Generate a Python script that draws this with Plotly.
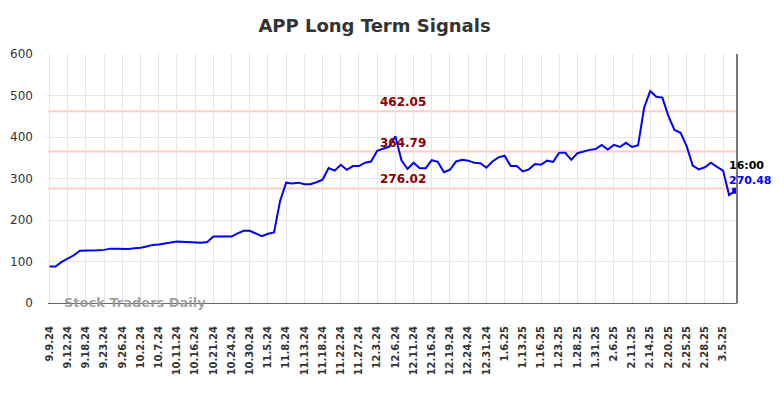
import plotly.graph_objects as go

# ---- data ----
tick_labels = ["9.9.24", "9.12.24", "9.18.24", "9.23.24", "9.26.24", "10.2.24", "10.7.24",
               "10.11.24", "10.16.24", "10.21.24", "10.24.24", "10.30.24", "11.5.24", "11.8.24",
               "11.13.24", "11.18.24", "11.22.24", "11.27.24", "12.3.24", "12.6.24", "12.11.24",
               "12.16.24", "12.19.24", "12.24.24", "12.31.24", "1.6.25", "1.13.25", "1.16.25",
               "1.23.25", "1.28.25", "1.31.25", "2.6.25", "2.11.25", "2.14.25", "2.20.25",
               "2.25.25", "2.28.25", "3.5.25"]

prices = [88, 88, 99, 107, 115, 126, 126, 126, 127, 128,
          131, 131, 130, 130, 132, 133, 136, 140, 141, 144,
          146, 148, 147, 146, 146, 145, 147, 160, 160, 160,
          160, 168, 174, 174, 168, 161, 167, 170, 246, 290,
          288, 290, 286, 286, 291, 297, 325, 319, 333, 321,
          330, 330, 338, 341, 367, 372, 377, 402, 344, 323,
          338, 325, 325, 344, 340, 315, 321, 341, 345, 343,
          338, 337, 326, 341, 351, 355, 330, 330, 317, 322,
          335, 333, 343, 340, 362, 362, 345, 361, 365, 369,
          371, 381, 370, 381, 376, 386, 376, 380, 471, 511,
          497, 495, 450, 417, 410, 378, 331, 322, 327, 338,
          328, 319, 260, 270.48]

levels = [462.05, 364.79, 276.02]
level_labels = ["462.05", "364.79", "276.02"]
last_time = "16:00"
last_price_label = "270.48"

x_idx = list(range(len(prices)))
tick_step = 3
tick_vals = [i * tick_step for i in range(len(tick_labels))]

FONT = "DejaVu Sans"

fig = go.Figure()
fig.add_trace(go.Scatter(
    x=x_idx, y=prices, mode="lines",
    line=dict(color="#0000ff", width=2),
    hoverinfo="skip", showlegend=False,
))
fig.add_trace(go.Scatter(
    x=[x_idx[-1]], y=[prices[-1]], mode="markers",
    marker=dict(symbol="square", size=6, color="#0000ff"),
    hoverinfo="skip", showlegend=False,
))

shapes = []
annotations = []
label_x = 58.3
for lv, lab in zip(levels, level_labels):
    shapes.append(dict(type="line", xref="paper", x0=0, x1=1, yref="y", y0=lv, y1=lv,
                       line=dict(color="#ffcccc", width=2), layer="below"))
    annotations.append(dict(x=label_x, y=lv, xref="x", yref="y", text=f"<b>{lab}</b>",
                            showarrow=False, yanchor="bottom", yshift=0,
                            font=dict(family=FONT, size=12, color="#8b0000")))

# right vertical line
shapes.append(dict(type="line", xref="paper", x0=1, x1=1, yref="paper", y0=0, y1=1,
                   line=dict(color="#777777", width=2)))

annotations.append(dict(x=x_idx[-1], y=prices[-1], xref="x", yref="y",
                        text=f"<b>{last_time}</b>", showarrow=False,
                        xanchor="left", yanchor="middle", xshift=-8, yshift=25,
                        font=dict(family=FONT, size=11, color="#000000")))
annotations.append(dict(x=x_idx[-1], y=prices[-1], xref="x", yref="y",
                        text=f"<b>{last_price_label}</b>", showarrow=False,
                        xanchor="left", yanchor="middle", xshift=-8, yshift=10,
                        font=dict(family=FONT, size=11, color="#0000ff")))
annotations.append(dict(x=0.02, y=0, xref="paper", yref="paper",
                        text="<b>Stock Traders Daily</b>", showarrow=False,
                        xanchor="left", yanchor="middle", yshift=1,
                        font=dict(family=FONT, size=13, color="rgba(150,150,150,0.9)")))

# page body has an 8px margin: figure is 776x390 placed at (8, 8)
fig.update_layout(
    width=776, height=390,
    margin=dict(l=40, r=47, t=46, b=95, autoexpand=False),
    paper_bgcolor="white", plot_bgcolor="white",
    title=dict(text="<b>APP Long Term Signals</b>", x=366.5 / 776, xanchor="center",
               xref="container", y=1 - 18 / 390, yanchor="middle",
               font=dict(family=FONT, size=18, color="#333333")),
    font=dict(family=FONT, color="#333333"),
    shapes=shapes, annotations=annotations,
    showlegend=False,
)
fig.update_xaxes(
    range=[-0.25, 113.3], tickmode="array", tickvals=tick_vals,
    ticktext=[f"<b>{t}</b>" for t in tick_labels], tickangle=-90,
    tickfont=dict(family=FONT, size=10, color="#333333"),
    showgrid=True, gridcolor="#e6e6e6", gridwidth=1,
    showline=True, linecolor="#666666", linewidth=1,
    ticks="", ticklabelstandoff=18,
    zeroline=False, automargin=False,
)
fig.update_yaxes(
    range=[0, 600], tickvals=[0, 100, 200, 300, 400, 500, 600],
    tickfont=dict(family=FONT, size=12, color="#333333"),
    showgrid=True, gridcolor="#e6e6e6", gridwidth=1,
    showline=False, zeroline=False, ticks="", ticklabelstandoff=14,
    automargin=False,
)

fig.write_html("out.html")
